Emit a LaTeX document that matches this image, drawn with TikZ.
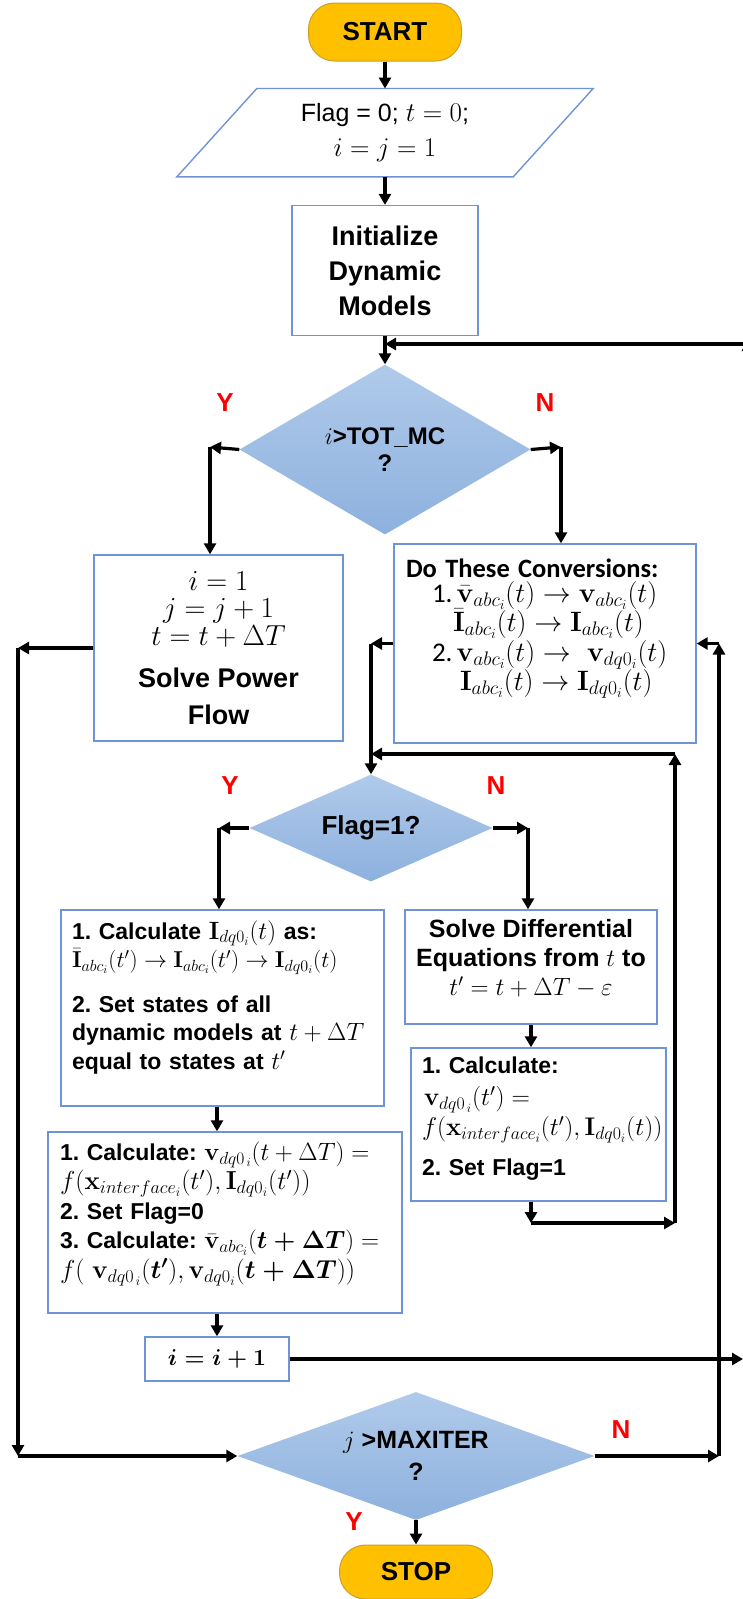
\RequirePackage{fix-cm}
\documentclass[tikz,border=0pt]{standalone}
\usepackage{amsmath}
\usepackage[no-math]{fontspec}
\setmainfont{Liberation Sans}
\newfontfamily\calib{Carlito}
\usetikzlibrary{arrows.meta, positioning, shapes.geometric}

\definecolor{boxBlue}{RGB}{110,148,214}
\definecolor{diamTop}{RGB}{176,202,234}
\definecolor{diamBot}{RGB}{141,177,222}
\definecolor{pillFill}{RGB}{255,192,0}
\definecolor{pillLine}{RGB}{204,160,40}
\definecolor{yesNo}{RGB}{255,0,0}

\newcommand{\tightlines}{\lineskiplimit -30pt\relax}

\begin{document}
\frenchspacing
\begin{tikzpicture}[
    x=1pt, y=-1pt,
    every node/.style={inner sep=0pt},
    term/.style={draw=pillLine, line width=1pt, fill=pillFill, rounded corners=26pt, minimum width=153pt, font=\fontsize{26}{30}\selectfont\bfseries},
    iobox/.style={minimum width=336pt, minimum height=88pt, align=center, font=\fontsize{25}{35}\selectfont},
    proc/.style={draw=boxBlue, line width=1.4pt, fill=white, align=center},
    procl/.style={proc, align=left},
    decision/.style={diamond, shading=axis, top color=diamTop, bottom color=diamBot, aspect=2, align=center},
    yn/.style={text=yesNo, font=\fontsize{26}{30}\selectfont\bfseries},
    arr/.style={-{Triangle[length=11pt, width=12pt]}, line width=3.2pt}
  ]
  \useasboundingbox (0,0) rectangle (743,1599);
  \clip (0,0) rectangle (743,1599);

  % --- Start and initialisation ---
  \node[term, minimum height=58pt] (start) at (385,32) {START};
  \node[iobox, below=27pt of start] (params) {Flag = 0; {\fontsize{27}{35}\selectfont$t=0$};\\{\fontsize{27}{35}\selectfont$i=j=1$}};
  \draw[boxBlue, line width=1.4pt] ([xshift=40pt]params.north west) -- ([xshift=40pt]params.north east)
    -- ([xshift=-40pt]params.south east) -- ([xshift=-40pt]params.south west) -- cycle;
  \node[proc, below=28pt of params, minimum width=186pt, minimum height=130pt, font=\fontsize{27}{35}\selectfont\bfseries] (init) {Initialize\\Dynamic\\Models};

  % --- Outer loop test ---
  \node[decision, below=28pt of init, minimum width=291pt, minimum height=170pt, font=\fontsize{24}{27}\selectfont\bfseries] (tmc) {$i$>TOT\_MC\\?};
  \node[yn] (tmcYes) at (225,403) {Y};
  \node[yn] (tmcNo) at (545,403) {N};

  \node[proc, minimum width=249pt, minimum height=186pt, font=\fontsize{27}{27.5}\selectfont\bfseries\tightlines] (flow) at (218.5,648)
    {{\fontsize{29}{27.5}\selectfont$i=1$}\\{\fontsize{29}{27.5}\selectfont$j=j+1$}\\{\fontsize{29}{27.5}\selectfont$t=t+\Delta T$}\\[15pt]Solve Power\\[9pt]Flow};
  \node[procl, text width=278pt, inner xsep=12pt, minimum width=302pt, minimum height=199pt, font=\fontsize{25}{29.5}\selectfont\tightlines] (conv) at (545,643.5)
    {{\calib\bfseries\fontsize{26.5}{29.5}\selectfont Do These Conversions:}\\[-5pt]
     \hspace*{26pt}{\calib\fontsize{27}{29.5}\selectfont 1.}\,{\fontsize{28}{29.5}\selectfont$\bar{\mathbf v}_{abc_i}(t) \rightarrow \mathbf v_{abc_i}(t)$}\\
     \hspace*{47pt}{\fontsize{28}{29.5}\selectfont$\bar{\mathbf I}_{abc_i}(t) \rightarrow \mathbf I_{abc_i}(t)$}\\
     \hspace*{26pt}{\calib\fontsize{27}{29.5}\selectfont 2.}\,{\fontsize{28}{29.5}\selectfont$\mathbf v_{abc_i}(t) \rightarrow\ \mathbf v_{dq0_i}(t)$}\\
     \hspace*{54pt}{\fontsize{28}{29.5}\selectfont$\mathbf I_{abc_i}(t) \rightarrow \mathbf I_{dq0_i}(t)$}\\[8pt]\mbox{}};

  % --- Flag test ---
  \node[decision, minimum width=243pt, minimum height=107pt, font=\fontsize{26}{30}\selectfont\bfseries] (flag) at (371,828) {Flag=1?};
  \node[yn] (flagYes) at (230,786) {Y};
  \node[yn] (flagNo) at (496,786) {N};

  \node[procl, text width=301pt, inner xsep=11pt, minimum width=323pt, minimum height=196pt, font=\fontsize{23}{28.5}\selectfont\bfseries\tightlines] (calcI) at (222.5,1008)
    {1. Calculate {\fontsize{25}{28.5}\selectfont$\mathbf I_{dq0_i}(t)$} as:\\
     {\fontsize{23}{28.5}\selectfont$\bar{\mathbf I}_{abc_i}(t')\rightarrow\mathbf I_{abc_i}(t')\rightarrow\mathbf I_{dq0_i}(t)$}\\[16pt]
     2. Set states of all\\
     dynamic models at {\fontsize{25}{28.5}\selectfont$t+\Delta T$}\\
     equal to states at {\fontsize{25}{28.5}\selectfont$t'$}\\[-2pt]\mbox{}};
  \node[proc, minimum width=252pt, minimum height=114pt, text depth=20pt, font=\fontsize{25}{29}\selectfont\bfseries] (solveDE) at (531,967)
    {Solve Differential\\Equations from $t$ to\\$t'=t+\Delta T-\varepsilon$};
  \node[procl, text width=233pt, inner xsep=11pt, minimum width=255pt, minimum height=153pt, font=\fontsize{23}{30}\selectfont\bfseries\tightlines] (calcR) at (538.5,1124.5)
    {1. Calculate:\\[2pt]
     \hspace*{2pt}{\fontsize{25.5}{30}\selectfont$\mathbf v_{dq0_{\,i}}(t')=$}\\
     {\fontsize{25.5}{30}\selectfont$f(\mathbf x_{interface_i}(t'),\mathbf I_{dq0_i}(t))$}\\[10pt]
     2. Set Flag=1\\[-14pt]\mbox{}};
  \node[procl, text width=330pt, inner xsep=12pt, minimum width=354pt, minimum height=181pt, font=\fontsize{23}{29.5}\selectfont\bfseries\tightlines] (calcV) at (225,1222.5)
    {1. Calculate: {\fontsize{25}{29.5}\selectfont$\mathbf v_{dq0_{\,i}}(t+\Delta T)=$}\\
     {\fontsize{26}{29.5}\selectfont$f(\mathbf x_{interface_i}(t'),\mathbf I_{dq0_i}(t'))$}\\
     2. Set Flag=0\\
     3. Calculate: {\fontsize{25}{29.5}\selectfont$\bar{\mathbf v}_{abc_i}(\boldsymbol{t+\Delta T})=$}\\
     {\fontsize{26}{29.5}\selectfont$f(\ \mathbf v_{dq0_{\,i}}(\boldsymbol{t'}),\mathbf v_{dq0_i}(\boldsymbol{t+\Delta T}))$}\\[-4.5pt]\mbox{}};
  \node[proc, minimum width=144pt, minimum height=44pt, font=\fontsize{23}{30}\selectfont] (incr) at (217,1359) {$\boldsymbol{i=i+1}$};

  % --- Iteration test and stop ---
  \node[decision, minimum width=357pt, minimum height=128pt, font=\fontsize{25}{32}\selectfont\bfseries] (maxit) at (416,1456) {$j$ >MAXITER\\?};
  \node[yn] (maxitNo) at (621,1430) {N};
  \node[yn] (maxitYes) at (354,1522) {Y};
  \node[term, minimum height=54pt] (stop) at (416,1572) {STOP};

  % --- Rails and corners ---
  \coordinate (leftRail) at (18,0);
  \coordinate (rightRail) at (719,0);
  \coordinate (outRail) at (748,0);
  \coordinate (edgeR) at (743,0);
  \coordinate (tmcY) at (210,447);
  \coordinate (tmcN) at (561,447);
  \coordinate (flagY) at (219,828);
  \coordinate (flagN) at (528,828);
  \coordinate (backA) at (531,1223);
  \coordinate (backB) at (675,1223);
  \coordinate (backC) at (675,754);
  \coordinate (loopTop) at (748,344);

  % --- Arrows ---
  \draw[arr] (start) -- (params);
  \draw[arr] (params) -- (init);
  \draw[arr] (init) -- (tmc);
  \draw[arr] (loopTop) -- (loopTop -| tmc.north);
  \draw[arr] (incr.east -| outRail) -- ([yshift=4pt]loopTop);
  \draw[arr] (tmc.west) -- (tmcY);
  \draw[arr] (tmcY) -- (tmcY |- flow.north);
  \draw[arr] (tmc.east) -- (tmcN);
  \draw[arr] (tmcN) -- (tmcN |- conv.north);
  \draw[arr] (flow.west) -- (flow.west -| leftRail);
  \draw[arr] (flow.west -| leftRail) -- (maxit.west -| leftRail);
  \draw[arr] (maxit.west -| leftRail) -- (maxit.west);
  \draw[arr] (conv.west) -- (conv.west -| flag.north);
  \draw[arr] (conv.west -| flag.north) -- (flag.north);
  \draw[arr] (flag.west) -- (flagY);
  \draw[arr] (flagY) -- (flagY |- calcI.north);
  \draw[arr] (flag.east) -- (flagN);
  \draw[arr] (flagN) -- (flagN |- solveDE.north);
  \draw[arr] (solveDE.south) -- (solveDE.south |- calcR.north);
  \draw[arr] (calcR.south -| backA) -- (backA);
  \draw[arr] (backA) -- (backB);
  \draw[arr] (backB) -- (backC);
  \draw[arr] (backC) -- (backC -| flag.north);
  \draw[arr] (calcI.south -| incr.north) -- (calcV.north -| incr.north);
  \draw[arr] (calcV.south -| incr.north) -- (incr.north);
  \draw[arr] (incr.east) -- (incr.east -| edgeR);
  \draw[arr] (maxit.east) -- (maxit.east -| rightRail);
  \draw[arr] (maxit.east -| rightRail) -- (conv.east -| rightRail);
  \draw[arr] (conv.east -| rightRail) -- (conv.east);
  \draw[arr] (maxit) -- (stop);
\end{tikzpicture}
\end{document}
